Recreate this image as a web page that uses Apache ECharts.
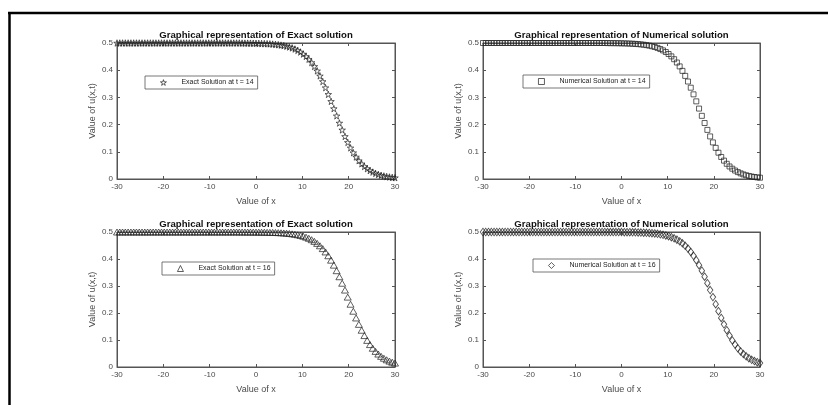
<!DOCTYPE html>
<html>
<head>
<meta charset="utf-8">
<script src="https://cdn.jsdelivr.net/npm/echarts@6/dist/echarts.min.js"></script>
<style>
html,body{margin:0;padding:0;background:#fff;}
#chart{width:828px;height:405px;}
</style>
</head>
<body>
<div id="chart"></div>
<script>
// ---- data ----
const xValues = [
 -30,-29.4,-28.8,-28.2,-27.6,-27,-26.4,-25.8,-25.2,-24.6,
 -24,-23.4,-22.8,-22.2,-21.6,-21,-20.4,-19.8,-19.2,-18.6,
 -18,-17.4,-16.8,-16.2,-15.6,-15,-14.4,-13.8,-13.2,-12.6,
 -12,-11.4,-10.8,-10.2,-9.6,-9,-8.4,-7.8,-7.2,-6.6,
 -6,-5.4,-4.8,-4.2,-3.6,
 -3,-2.4,-1.8,-1.2,-0.6,0,0.6,1.2,1.8,2.4,
 3,3.6,4.2,4.8,5.4,6,6.6,7.2,7.8,8.4,
 9,9.6,10.2,10.8,11.4,12,12.6,13.2,13.8,14.4,
 15,15.6,16.2,16.8,17.4,18,18.6,19.2,19.8,20.4,
 21,21.6,22.2,22.8,23.4,24,24.6,25.2,25.8,26.4,
 27,27.6,28.2,28.8,29.4,30
];
const exact14 = [
 0.5,0.5,0.5,0.5,0.5,0.5,0.5,0.5,0.5,0.5,
 0.5,0.5,0.5,0.5,0.5,0.5,0.5,0.5,0.5,0.5,
 0.5,0.5,0.5,0.5,0.5,0.5,0.5,0.5,0.5,0.5,
 0.5,0.5,0.5,0.5,0.5,0.5,0.5,0.5,0.5,0.5,
 0.5,0.5,0.5,0.5,0.5,
 0.4996,0.4995,0.4994,0.4993,0.4991,0.4988,0.4986,0.4982,0.4978,0.4973,
 0.4967,0.4959,0.4949,0.4937,0.4922,0.4904,0.4881,0.4853,0.4820,0.4778,
 0.4728,0.4668,0.4595,0.4508,0.4404,0.4282,0.4140,0.3976,0.3791,0.3584,
 0.3357,0.3112,0.2855,0.2589,0.2322,0.2058,0.1805,0.1565,0.1345,0.1145,
 0.0967,0.0810,0.0675,0.0559,0.0461,0.0379,0.0311,0.0254,0.0207,0.0168,
 0.0137,0.0111,0.0090,0.0073,0.0059,0.0048
];
const numerical14 = [
 0.5,0.5,0.5,0.5,0.5,0.5,0.5,0.5,0.5,0.5,
 0.5,0.5,0.5,0.5,0.5,0.5,0.5,0.5,0.5,0.5,
 0.5,0.5,0.5,0.5,0.5,0.5,0.5,0.5,0.5,0.5,
 0.5,0.5,0.5,0.5,0.5,0.5,0.5,0.5,0.5,0.5,
 0.5,0.5,0.5,0.5,0.5,
 0.4996,0.4995,0.4994,0.4993,0.4991,0.4988,0.4986,0.4982,0.4978,0.4973,
 0.4967,0.4959,0.4949,0.4937,0.4922,0.4904,0.4881,0.4853,0.4820,0.4778,
 0.4728,0.4668,0.4595,0.4508,0.4404,0.4282,0.4140,0.3976,0.3791,0.3584,
 0.3357,0.3112,0.2855,0.2589,0.2322,0.2058,0.1805,0.1565,0.1345,0.1145,
 0.0967,0.0810,0.0675,0.0559,0.0461,0.0379,0.0311,0.0254,0.0207,0.0168,
 0.0137,0.0111,0.0090,0.0073,0.0059,0.0048
];
const exact16 = [
 0.5,0.5,0.5,0.5,0.5,0.5,0.5,0.5,0.5,0.5,
 0.5,0.5,0.5,0.5,0.5,0.5,0.5,0.5,0.5,0.5,
 0.5,0.5,0.5,0.5,0.5,0.5,0.5,0.5,0.5,0.5,
 0.5,0.5,0.5,0.5,0.5,0.5,0.5,0.5,0.5,0.5,
 0.5,0.5,0.5,0.5,0.5,
 0.4998,0.4998,0.4998,0.4997,0.4996,0.4996,0.4995,0.4993,0.4992,0.4990,
 0.4987,0.4984,0.4981,0.4976,0.4970,0.4964,0.4955,0.4945,0.4932,0.4916,
 0.4897,0.4873,0.4844,0.4809,0.4767,0.4715,0.4653,0.4579,0.4490,0.4385,
 0.4262,0.4120,0.3957,0.3772,0.3567,0.3343,0.3102,0.2849,0.2588,0.2325,
 0.2066,0.1816,0.1580,0.1362,0.1164,0.0986,0.0830,0.0694,0.0578,0.0479,
 0.0395,0.0325,0.0267,0.0218,0.0178,0.0145
];
const numerical16 = [
 0.5,0.5,0.5,0.5,0.5,0.5,0.5,0.5,0.5,0.5,
 0.5,0.5,0.5,0.5,0.5,0.5,0.5,0.5,0.5,0.5,
 0.5,0.5,0.5,0.5,0.5,0.5,0.5,0.5,0.5,0.5,
 0.5,0.5,0.5,0.5,0.5,0.5,0.5,0.5,0.5,0.5,
 0.5,0.5,0.5,0.5,0.5,
 0.4998,0.4998,0.4998,0.4997,0.4996,0.4996,0.4995,0.4993,0.4992,0.4990,
 0.4987,0.4984,0.4981,0.4976,0.4970,0.4964,0.4955,0.4945,0.4932,0.4916,
 0.4897,0.4873,0.4844,0.4809,0.4767,0.4715,0.4653,0.4579,0.4490,0.4385,
 0.4262,0.4120,0.3957,0.3772,0.3567,0.3343,0.3102,0.2849,0.2588,0.2325,
 0.2066,0.1816,0.1580,0.1362,0.1164,0.0986,0.0830,0.0694,0.0578,0.0479,
 0.0395,0.0325,0.0267,0.0218,0.0178,0.0145
];
const xTicks = [-30, -20, -10, 0, 10, 20, 30];
const yTicks = [0, 0.1, 0.2, 0.3, 0.4, 0.5];
const titles = [
 'Graphical representation of Exact solution',
 'Graphical representation of Numerical solution',
 'Graphical representation of Exact solution',
 'Graphical representation of Numerical solution'
];
const seriesNames = [
 'Exact Solution at t = 14',
 'Numerical Solution at t = 14',
 'Exact Solution at t = 16',
 'Numerical Solution at t = 16'
];
const seriesValues = [exact14, numerical14, exact16, numerical16];

// ---- layout / style ----
const FONT = 'Liberation Sans, Arial, sans-serif';
const grids = [
 {left: 117, top: 43, width: 278, height: 136},
 {left: 483, top: 43, width: 277, height: 136},
 {left: 117, top: 232, width: 278, height: 135},
 {left: 483, top: 232, width: 277, height: 135}
];
const legendPos = [
 {left: 145, top: 76},
 {left: 523, top: 75},
 {left: 162, top: 262},
 {left: 533, top: 259}
];
const starPath = 'path://M50,0 L61,35 L98,35 L68,57 L79,91 L50,70 L21,91 L32,57 L2,35 L39,35 Z';
const symbols = [starPath, 'rect', 'triangle', 'diamond'];
const symbolSizes = [[6.5, 6.5], [5, 5], [7, 6], [5.5, 7.5]];
const axisColor = '#555';
const textColor = '#4a4a4a';

const option = {
 animation: false,
 backgroundColor: '#fff',
 textStyle: {fontFamily: FONT},
 grid: grids.map(g => Object.assign({show: true, borderColor: axisColor, borderWidth: 1, backgroundColor: 'transparent'}, g)),
 title: titles.map((t, i) => ({
  text: t,
  left: grids[i].left + grids[i].width / 2,
  top: grids[i].top - 13,
  textAlign: 'center',
  padding: 0,
  textStyle: {fontSize: 9.6, fontWeight: 'bold', color: '#111', fontFamily: FONT}
 })),
 legend: seriesNames.map((n, i) => ({
  data: [n],
  left: legendPos[i].left,
  top: legendPos[i].top,
  orient: 'horizontal',
  padding: [3, 4, 3, 15],
  itemWidth: 6,
  itemHeight: 6,
  itemGap: 4,
  borderColor: '#555',
  borderWidth: 0.8,
  backgroundColor: '#fff',
  selectedMode: false,
  itemStyle: {color: 'rgba(255,255,255,0)', borderColor: '#222', borderWidth: 0.9},
  textStyle: {fontSize: 7, color: '#222', fontFamily: FONT, padding: [0, 0, 0, 10]}
 })),
 xAxis: [],
 yAxis: [],
 series: [],
 graphic: [
  {type: 'line', shape: {x1: 8, y1: 13, x2: 828, y2: 13}, style: {stroke: '#000', lineWidth: 2.5}},
  {type: 'line', shape: {x1: 9.5, y1: 12, x2: 9.5, y2: 405}, style: {stroke: '#000', lineWidth: 2.5}}
 ]
};

for (let i = 0; i < 4; i++) {
 const baseX = {
  type: 'value', gridIndex: i, min: xTicks[0], max: xTicks[xTicks.length - 1], interval: 10,
  axisLine: {show: true, onZero: false, lineStyle: {color: axisColor, width: 1}},
  axisTick: {show: true, inside: true, length: 3, lineStyle: {color: axisColor}},
  splitLine: {show: false}
 };
 option.xAxis.push(Object.assign({}, baseX, {
  position: 'bottom',
  name: 'Value of x', nameLocation: 'middle', nameGap: 18,
  nameTextStyle: {fontSize: 9, color: textColor, fontFamily: FONT},
  axisLabel: {fontSize: 8, color: textColor, margin: 4, fontFamily: FONT}
 }));
 option.xAxis.push(Object.assign({}, baseX, {position: 'top', axisLabel: {show: false}}));
 const baseY = {
  type: 'value', gridIndex: i, min: yTicks[0], max: yTicks[yTicks.length - 1], interval: 0.1,
  axisLine: {show: true, onZero: false, lineStyle: {color: axisColor, width: 1}},
  axisTick: {show: true, inside: true, length: 3, lineStyle: {color: axisColor}},
  splitLine: {show: false}
 };
 option.yAxis.push(Object.assign({}, baseY, {
  position: 'left',
  name: 'Value of u(x,t)', nameLocation: 'middle', nameGap: 20,
  nameTextStyle: {fontSize: 9, color: textColor, fontFamily: FONT},
  axisLabel: {fontSize: 8, color: textColor, margin: 4, fontFamily: FONT,
   formatter: v => String(Math.round(v * 10) / 10)}
 }));
 option.yAxis.push(Object.assign({}, baseY, {position: 'right', axisLabel: {show: false}}));
 option.series.push({
  name: seriesNames[i],
  type: 'scatter',
  xAxisIndex: 2 * i,
  yAxisIndex: 2 * i,
  symbol: symbols[i],
  symbolSize: symbolSizes[i],
  itemStyle: {color: 'rgba(255,255,255,0)', borderColor: '#222', borderWidth: 0.9},
  data: xValues.map((x, k) => [x, seriesValues[i][k]])
 });
}

const chart = echarts.init(document.getElementById('chart'), null, {renderer: 'canvas'});
chart.setOption(option);
</script>
</body>
</html>
